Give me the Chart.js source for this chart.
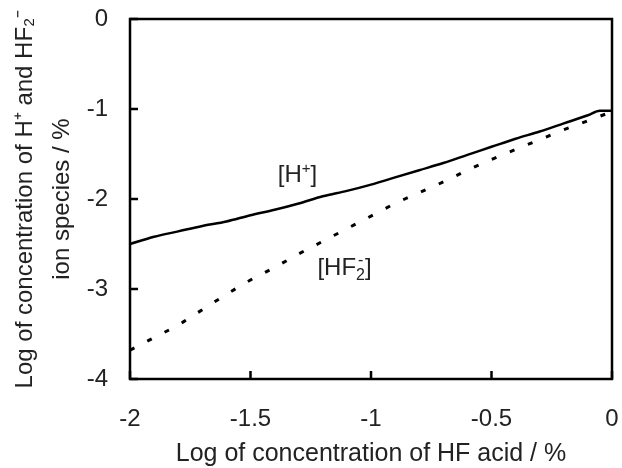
<!DOCTYPE html>
<html>
<head>
<meta charset="utf-8">
<script src="https://cdn.jsdelivr.net/npm/chart.js@4/dist/chart.umd.min.js"></script>
<style>
html,body{margin:0;padding:0;background:#fff;}
#wrap{width:622px;height:468px;}
</style>
</head>
<body>
<div id="wrap"><canvas id="c" width="622" height="468"></canvas></div>
<script>
// Log of HF acid concentration (x)
const logHF = [-2, -1.9, -1.8, -1.7, -1.6, -1.5, -1.4, -1.3, -1.2, -1.1, -1.0, -0.9, -0.8, -0.7, -0.6, -0.5, -0.4, -0.3, -0.2, -0.1, -0.05, 0];
// [H+] series
const logH = [-2.50, -2.42, -2.36, -2.30, -2.25, -2.18, -2.12, -2.05, -1.97, -1.91, -1.84, -1.76, -1.68, -1.60, -1.51, -1.42, -1.33, -1.25, -1.16, -1.07, -1.02, -1.02];
// [HF2-] series
const logHF2 = [-3.68, -3.54, -3.40, -3.23, -3.06, -2.90, -2.76, -2.61, -2.47, -2.33, -2.19, -2.05, -1.93, -1.81, -1.68, -1.56, -1.45, -1.34, -1.23, -1.13, -1.08, -1.03];
const xTickLabels = ['-2', '-1.5', '-1', '-0.5', '0'];
const yTickLabels = ['-4', '-3', '-2', '-1', '0'];
const xTitle = 'Log of concentration of HF acid / %';
const yTitle = ['Log of concentration of H\u207A and HF\u2082\u207B', 'ion species / %'];

const FONT = '"Liberation Sans", Arial, sans-serif';

const frameAndLabels = {
  id: 'frameAndLabels',
  afterDraw(chart) {
    const ctx = chart.ctx;
    const a = chart.chartArea;
    const xs = chart.scales.x, ys = chart.scales.y;
    ctx.save();
    ctx.strokeStyle = '#000';
    ctx.lineWidth = 2.5;
    ctx.strokeRect(a.left, a.top, a.right - a.left, a.bottom - a.top);
    ctx.beginPath();
    xs.ticks.forEach(t => {
      const px = xs.getPixelForValue(t.value);
      ctx.moveTo(px, a.bottom); ctx.lineTo(px, a.bottom - 8);
    });
    ys.ticks.forEach(t => {
      const py = ys.getPixelForValue(t.value);
      ctx.moveTo(a.left, py); ctx.lineTo(a.left + 8, py);
    });
    ctx.stroke();

    // annotations with sub/superscripts
    function rich(parts, cx, baseY) {
      let w = 0;
      parts.forEach(p => {
        ctx.font = p.size + 'px ' + FONT;
        p.w = ctx.measureText(p.t).width;
        if (!p.stack) w += p.w;
      });
      let x = cx - w / 2;
      ctx.fillStyle = '#222';
      ctx.textBaseline = 'alphabetic';
      ctx.textAlign = 'left';
      parts.forEach(p => {
        ctx.font = p.size + 'px ' + FONT;
        const px = p.stack ? x - p.back : x;
        ctx.fillText(p.t, px, baseY + p.dy);
        if (!p.stack) x += p.w;
      });
    }
    const hx = xs.getPixelForValue(-1.305), hy = ys.getPixelForValue(-1.811);
    rich([{t: '[H', size: 24, dy: 0}, {t: '+', size: 15, dy: -9}, {t: ']', size: 24, dy: 0}], hx, hy);
    const fx = xs.getPixelForValue(-1.110), fy = ys.getPixelForValue(-2.844);
    rich([{t: '[HF', size: 24, dy: 0}, {t: '2', size: 16, dy: 5}, {t: '-', size: 16, dy: -10, stack: true, back: 7}, {t: ']', size: 24, dy: 0}], fx, fy);
    ctx.restore();
  }
};

const pts = (ys) => logHF.map((x, i) => ({x: x, y: ys[i]}));

new Chart(document.getElementById('c'), {
  type: 'scatter',
  data: {
    datasets: [
      {label: '[H+]', data: pts(logH), showLine: true, borderColor: '#000', borderWidth: 2.5, pointRadius: 0, cubicInterpolationMode: 'monotone', fill: false},
      {label: '[HF2-]', data: pts(logHF2), showLine: true, borderColor: '#000', borderWidth: 3, borderDash: [5, 14.5], pointRadius: 0, cubicInterpolationMode: 'monotone', fill: false}
    ]
  },
  options: {
    responsive: false,
    animation: false,
    layout: {padding: {top: 19, right: 10, left: 0, bottom: 0}},
    plugins: {legend: {display: false}, tooltip: {enabled: false}},
    scales: {
      x: {
        type: 'linear', min: -2, max: 0,
        afterFit: s => { s.height = 89; s.paddingLeft = 0; s.paddingRight = 0; },
        afterBuildTicks: s => { s.ticks = xTickLabels.map(v => ({value: parseFloat(v)})); },
        grid: {display: false, drawTicks: false},
        border: {display: false},
        ticks: {
          color: '#222', padding: 26, font: {family: FONT, size: 24},
          callback: (v) => xTickLabels[xTickLabels.map(parseFloat).indexOf(v)]
        },
        title: {display: true, text: xTitle, color: '#222', font: {family: FONT, size: 25, lineHeight: 1}, padding: {top: 0, bottom: 1}}
      },
      y: {
        type: 'linear', min: -4, max: 0,
        afterFit: s => { s.width = 130; s.paddingTop = 0; s.paddingBottom = 0; },
        afterBuildTicks: s => { s.ticks = yTickLabels.map(v => ({value: parseFloat(v)})); },
        grid: {display: false, drawTicks: false},
        border: {display: false},
        ticks: {
          color: '#222', padding: 22, font: {family: FONT, size: 24},
          callback: (v) => yTickLabels[yTickLabels.map(parseFloat).indexOf(v)]
        },
        title: {display: true, text: yTitle, color: '#222', font: {family: FONT, size: 24, lineHeight: 1.54}, padding: {top: 6.5, bottom: 0}}
      }
    }
  },
  plugins: [frameAndLabels]
});
</script>
</body>
</html>
